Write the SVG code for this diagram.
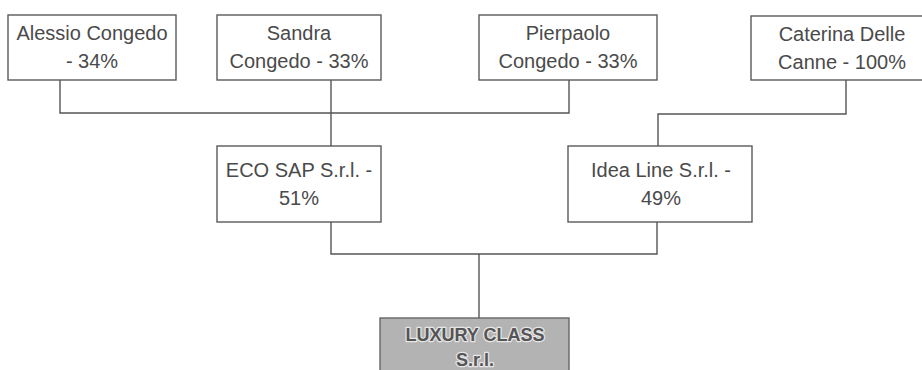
<svg xmlns="http://www.w3.org/2000/svg" width="922" height="370" viewBox="0 0 922 370">
<style>
.box{fill:#fff;stroke:#5a5a5a;stroke-width:1.4}
.t{font-family:"Liberation Sans",Arial,sans-serif;font-size:20px;fill:#4a4a4a;text-anchor:middle}
.lux{fill:#b3b3b3;stroke:#666;stroke-width:1.4}
.tl{font-family:"Liberation Sans",Arial,sans-serif;font-size:18px;font-weight:bold;fill:#555;text-anchor:middle;stroke:#e6e6e6;stroke-width:2.5;paint-order:stroke;stroke-linejoin:round}
.c{fill:none;stroke:#555;stroke-width:1.4}
</style>
<rect width="922" height="370" fill="#fff"/>
<g id="connectors">
<polyline class="c" points="60,80 60,113 569,113 569,80"/>
<line class="c" x1="331" y1="80" x2="331" y2="146"/>
<polyline class="c" points="846,80 846,114 658,114 658,146"/>
<polyline class="c" points="331,222 331,254 657,254 657,222"/>
<line class="c" x1="479" y1="254" x2="479" y2="318"/>
</g>
<g id="alessio">
<rect class="box" x="8" y="15" width="168" height="65"/>
<text class="t" x="92" y="40">Alessio Congedo</text>
<text class="t" x="92" y="68">- 34%</text>
</g>
<g id="sandra">
<rect class="box" x="217" y="15" width="164" height="65"/>
<text class="t" x="299" y="40">Sandra</text>
<text class="t" x="299" y="68">Congedo - 33%</text>
</g>
<g id="pierpaolo">
<rect class="box" x="479" y="15" width="178" height="65"/>
<text class="t" x="568" y="40">Pierpaolo</text>
<text class="t" x="568" y="68">Congedo - 33%</text>
</g>
<g id="caterina">
<rect class="box" x="751" y="16" width="190" height="64"/>
<text class="t" x="842" y="41">Caterina Delle</text>
<text class="t" x="842" y="69">Canne - 100%</text>
</g>
<g id="ecosap">
<rect class="box" x="217" y="146" width="164" height="76"/>
<text class="t" x="299" y="177">ECO SAP S.r.l. -</text>
<text class="t" x="299" y="205">51%</text>
</g>
<g id="idealine">
<rect class="box" x="568" y="146" width="184" height="76"/>
<text class="t" x="661" y="177">Idea Line S.r.l. -</text>
<text class="t" x="661" y="205">49%</text>
</g>
<g id="luxury">
<rect class="lux" x="380" y="318" width="189" height="70"/>
<text class="tl" x="475" y="341">LUXURY CLASS</text>
<text class="tl" x="475" y="366">S.r.l.</text>
</g>
</svg>
